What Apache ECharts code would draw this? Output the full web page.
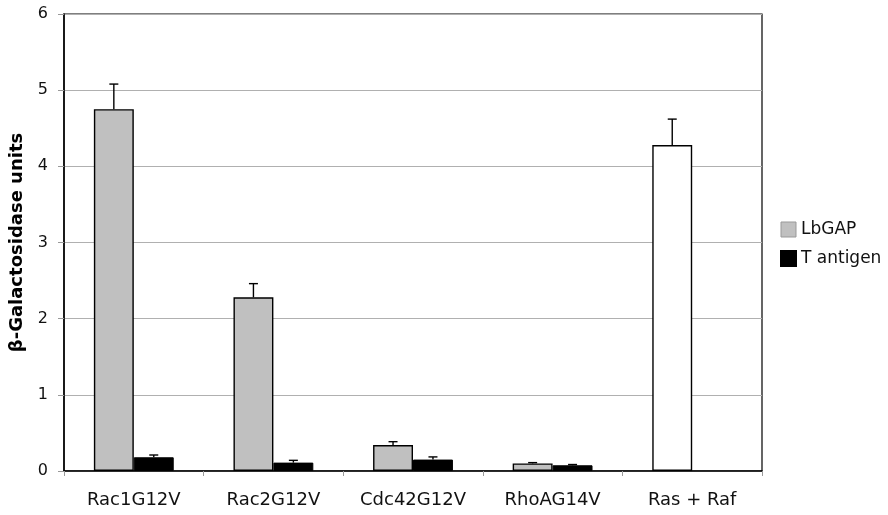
<!DOCTYPE html>
<html><head><meta charset="utf-8">
<script src="https://cdn.jsdelivr.net/npm/echarts@6/dist/echarts.min.js"></script>
<style>html,body{margin:0;padding:0;background:#fff}#c{width:888px;height:515px}</style>
</head><body><div id="c"></div>
<script>
var categories = ['Rac1G12V','Rac2G12V','Cdc42G12V','RhoAG14V','Ras + Raf'];
var lbgap = [4.75, 2.28, 0.34, 0.10, 4.28];
var lbgapErr = [0.33, 0.18, 0.045, 0.01, 0.34];
var tantigen = [0.18, 0.11, 0.15, 0.075, null];
var tantigenErr = [0.03, 0.03, 0.035, 0.01, null];
var yTicks = [0,1,2,3,4,5,6];

var FONT = 'DejaVu Sans';
var BW = 0.286;
function errSeries(vals, errs, side){
  var data = [];
  for (var i=0;i<vals.length;i++){ if (vals[i]!=null) data.push([i, vals[i], vals[i]+errs[i]]); }
  return {
    type:'custom', z:5, silent:true,
    data:data,
    encode:{x:0,y:[1,2]},
    renderItem:function(params, api){
      var band = api.size([1,0])[0];
      var off = side*band*BW/2;
      var p0 = api.coord([api.value(0), api.value(1)]);
      var p1 = api.coord([api.value(0), api.value(2)]);
      var x = p0[0]+off;
      return {type:'group', children:[
        {type:'line', shape:{x1:x,y1:p0[1],x2:x,y2:p1[1]}, style:{stroke:'#000',lineWidth:1.4}},
        {type:'line', shape:{x1:x-4.5,y1:p1[1],x2:x+4.5,y2:p1[1]}, style:{stroke:'#000',lineWidth:1.4}}
      ]};
    }
  };
}
var lbData = lbgap.map(function(v,i){
  return i===4 ? {value:v, itemStyle:{color:'#fff'}} : v;
});
var chart = echarts.init(document.getElementById('c'));
chart.setOption({
  animation:false,
  textStyle:{fontFamily:FONT},
  grid:{left:64,right:126,top:14,bottom:44,show:true,borderColor:'#000',borderWidth:1.2,backgroundColor:'transparent'},
  legend:{
    orient:'vertical', left:775, top:216, itemWidth:15, itemHeight:15, itemGap:12,
    icon:'rect', textStyle:{fontFamily:FONT,fontSize:17,color:'#111'},
    data:[{name:'LbGAP',itemStyle:{color:'#c0c0c0',borderColor:'#999',borderWidth:1}},{name:'T antigen',itemStyle:{color:'#000'}}]
  },
  xAxis:{
    type:'category', data:categories,
    axisLine:{lineStyle:{color:'#000',width:1.5}},
    axisTick:{show:true,length:5,lineStyle:{color:'#999'}},
    axisLabel:{fontFamily:FONT,fontSize:18,color:'#111',margin:20}
  },
  yAxis:{
    type:'value', min:0, max:6, interval:1,
    name:'β-Galactosidase units', nameLocation:'middle', nameGap:38,
    nameTextStyle:{fontFamily:FONT,fontSize:18,fontWeight:'bold',color:'#000'},
    axisLine:{show:true,lineStyle:{color:'#000',width:1.5}},
    axisTick:{show:true,length:6,lineStyle:{color:'#999'}},
    axisLabel:{fontFamily:FONT,fontSize:16,color:'#111',margin:16,padding:[8,0,0,0],
      formatter:function(v){return yTicks.indexOf(v)>=0?String(v):'';}},
    splitLine:{lineStyle:{color:'#b0b0b0',width:1}}
  },
  series:[
    {name:'LbGAP',type:'bar',data:lbData,barWidth:'28.6%',barGap:'0%',
     itemStyle:{color:'#c0c0c0',borderColor:'#000',borderWidth:1.4}},
    {name:'T antigen',type:'bar',data:tantigen,barWidth:'28.6%',barGap:'0%',
     itemStyle:{color:'#000',borderColor:'#000',borderWidth:1}},
    errSeries(lbgap, lbgapErr, -1),
    errSeries(tantigen, tantigenErr, 1)
  ]
});
</script></body></html>
